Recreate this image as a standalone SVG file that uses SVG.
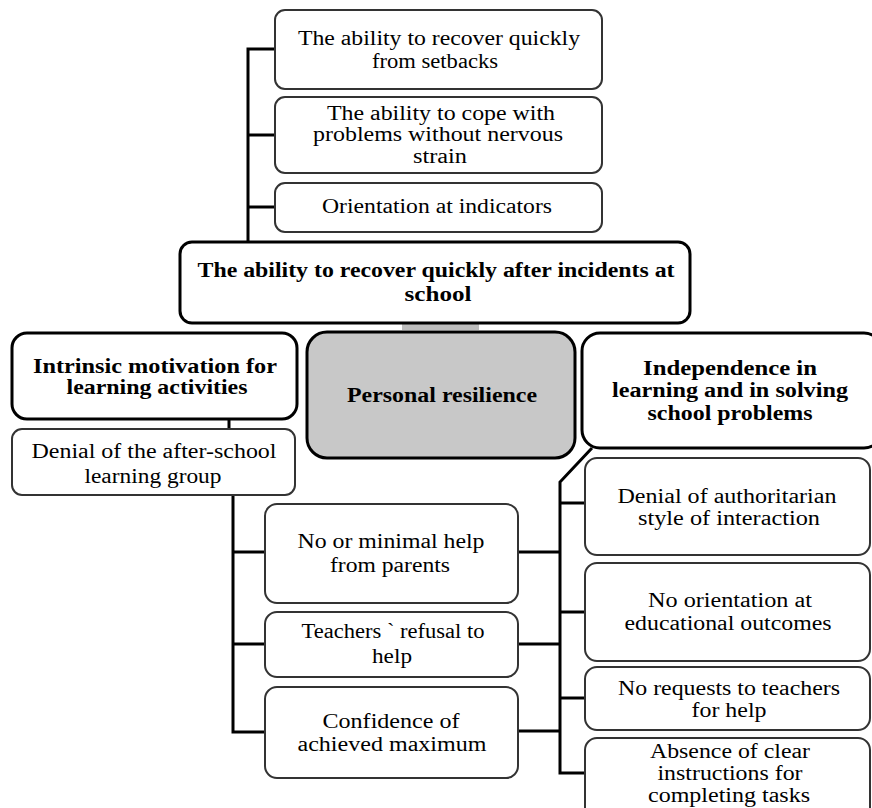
<svg xmlns="http://www.w3.org/2000/svg" width="872" height="808" viewBox="0 0 872 808">
<style>
.t{font-family:"Liberation Serif","Times New Roman",serif;font-size:20px;fill:#000;text-anchor:middle}
.b{font-weight:bold}
.thin{fill:#fff;stroke:#333;stroke-width:2}
.thick{fill:#fff;stroke:#000;stroke-width:3}
.c{fill:none;stroke:#000;stroke-width:3}
</style>
<rect width="872" height="808" fill="#fff"/>
<g id="connectors">
<polyline class="c" points="275,49 248,49 248,242"/>
<line class="c" x1="248" y1="135" x2="275" y2="135"/>
<line class="c" x1="248" y1="207" x2="275" y2="207"/>
<rect x="402" y="323" width="77" height="7" fill="#bdbdbd"/>
<line class="c" x1="229" y1="419" x2="229" y2="429"/>
<polyline class="c" points="233,495 233,732 265,732"/>
<line class="c" x1="233" y1="552" x2="265" y2="552"/>
<line class="c" x1="233" y1="644" x2="265" y2="644"/>
<line class="c" x1="518" y1="552" x2="560" y2="552"/>
<line class="c" x1="518" y1="644" x2="560" y2="644"/>
<line class="c" x1="518" y1="731" x2="560" y2="731"/>
<polyline class="c" points="592,448 560,482 560,773 585,773"/>
<line class="c" x1="560" y1="503" x2="585" y2="503"/>
<line class="c" x1="560" y1="612" x2="585" y2="612"/>
<line class="c" x1="560" y1="698" x2="585" y2="698"/>
</g>
<g id="n1"><rect class="thin" x="275" y="10" width="327" height="79" rx="10"/>
<text class="t" x="439" y="45" textLength="282" lengthAdjust="spacingAndGlyphs">The ability to recover quickly</text>
<text class="t" x="435" y="68" textLength="126" lengthAdjust="spacingAndGlyphs">from setbacks</text></g>
<g id="n2"><rect class="thin" x="275" y="97" width="327" height="76" rx="10"/>
<text class="t" x="441" y="120" textLength="228" lengthAdjust="spacingAndGlyphs">The ability to cope with</text>
<text class="t" x="438" y="141" textLength="250" lengthAdjust="spacingAndGlyphs">problems without nervous</text>
<text class="t" x="440" y="163" textLength="54" lengthAdjust="spacingAndGlyphs">strain</text></g>
<g id="n3"><rect class="thin" x="275" y="183" width="327" height="49" rx="10"/>
<text class="t" x="437" y="213" textLength="230" lengthAdjust="spacingAndGlyphs">Orientation at indicators</text></g>
<g id="n4"><rect class="thick" x="180" y="242" width="510" height="81" rx="12"/>
<text class="t b" x="436" y="277" textLength="477" lengthAdjust="spacingAndGlyphs">The ability to recover quickly after incidents at</text>
<text class="t b" x="438" y="301" textLength="67" lengthAdjust="spacingAndGlyphs">school</text></g>
<g id="n5"><rect class="thick" x="12" y="333" width="285" height="86" rx="15"/>
<text class="t b" x="155" y="373" textLength="244" lengthAdjust="spacingAndGlyphs">Intrinsic motivation for</text>
<text class="t b" x="157" y="394" textLength="181" lengthAdjust="spacingAndGlyphs">learning activities</text></g>
<g id="n6"><rect class="thin" x="12" y="429" width="283" height="66" rx="10"/>
<text class="t" x="154" y="458" textLength="245" lengthAdjust="spacingAndGlyphs">Denial of the after-school</text>
<text class="t" x="153" y="483" textLength="137" lengthAdjust="spacingAndGlyphs">learning group</text></g>
<g id="n7"><rect x="307" y="332" width="268" height="126" rx="20" fill="#c8c8c8" stroke="#000" stroke-width="3"/>
<text class="t b" x="442" y="402" textLength="190" lengthAdjust="spacingAndGlyphs">Personal resilience</text></g>
<g id="n8"><rect class="thick" x="582" y="333" width="300" height="115" rx="18"/>
<text class="t b" x="730" y="375" textLength="174" lengthAdjust="spacingAndGlyphs">Independence in</text>
<text class="t b" x="730" y="397" textLength="236" lengthAdjust="spacingAndGlyphs">learning and in solving</text>
<text class="t b" x="730" y="420" textLength="165" lengthAdjust="spacingAndGlyphs">school problems</text></g>
<g id="n9"><rect class="thin" x="265" y="504" width="253" height="99" rx="12"/>
<text class="t" x="391" y="548" textLength="187" lengthAdjust="spacingAndGlyphs">No or minimal help</text>
<text class="t" x="390" y="572" textLength="120" lengthAdjust="spacingAndGlyphs">from parents</text></g>
<g id="n10"><rect class="thin" x="265" y="612" width="253" height="65" rx="12"/>
<text class="t" x="393" y="638" textLength="183" lengthAdjust="spacingAndGlyphs">Teachers ` refusal to</text>
<text class="t" x="392" y="663" textLength="40" lengthAdjust="spacingAndGlyphs">help</text></g>
<g id="n11"><rect class="thin" x="265" y="687" width="253" height="91" rx="12"/>
<text class="t" x="391" y="728" textLength="137" lengthAdjust="spacingAndGlyphs">Confidence of</text>
<text class="t" x="392" y="751" textLength="189" lengthAdjust="spacingAndGlyphs">achieved maximum</text></g>
<g id="n12"><rect class="thin" x="585" y="458" width="285" height="97" rx="12"/>
<text class="t" x="727" y="503" textLength="219" lengthAdjust="spacingAndGlyphs">Denial of authoritarian</text>
<text class="t" x="729" y="525" textLength="182" lengthAdjust="spacingAndGlyphs">style of interaction</text></g>
<g id="n13"><rect class="thin" x="585" y="563" width="285" height="98" rx="12"/>
<text class="t" x="730" y="607" textLength="164" lengthAdjust="spacingAndGlyphs">No orientation at</text>
<text class="t" x="728" y="630" textLength="207" lengthAdjust="spacingAndGlyphs">educational outcomes</text></g>
<g id="n14"><rect class="thin" x="585" y="667" width="285" height="63" rx="12"/>
<text class="t" x="729" y="695" textLength="222" lengthAdjust="spacingAndGlyphs">No requests to teachers</text>
<text class="t" x="729" y="717" textLength="75" lengthAdjust="spacingAndGlyphs">for help</text></g>
<g id="n15"><rect class="thin" x="585" y="738" width="285" height="90" rx="12"/>
<text class="t" x="730" y="758" textLength="160" lengthAdjust="spacingAndGlyphs">Absence of clear</text>
<text class="t" x="730" y="780" textLength="145" lengthAdjust="spacingAndGlyphs">instructions for</text>
<text class="t" x="729" y="802" textLength="162" lengthAdjust="spacingAndGlyphs">completing tasks</text></g>
</svg>
